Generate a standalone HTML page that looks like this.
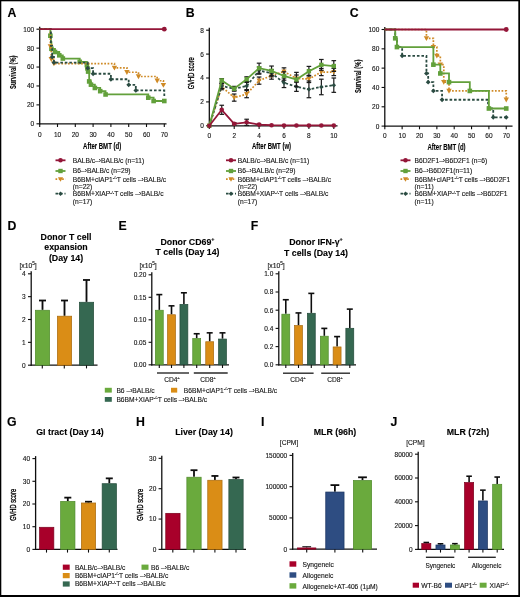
<!DOCTYPE html>
<html><head><meta charset="utf-8"><style>
html,body{margin:0;padding:0;background:#fff;width:520px;height:597px;overflow:hidden}
svg{display:block}
text{font-family:"Liberation Sans", sans-serif;stroke:currentColor;stroke-width:0.12px}
</style></head><body>
<svg width="520" height="597" viewBox="0 0 520 597">
<defs><filter id="bl" x="0" y="0" width="520" height="597" filterUnits="userSpaceOnUse"><feGaussianBlur stdDeviation="0.4"/></filter></defs>
<rect x="0.00" y="0.00" width="520.00" height="597.00" fill="#000" />
<rect x="1.30" y="1.30" width="517.00" height="593.70" fill="#fff" />
<g filter="url(#bl)">
<text x="7.60" y="17.20" font-size="12.3" font-weight="bold" text-anchor="start" fill="#000" >A</text>
<line x1="39.70" y1="26.70" x2="39.70" y2="124.40" stroke="#111" stroke-width="1.3" />
<line x1="36.50" y1="123.80" x2="39.70" y2="123.80" stroke="#111" stroke-width="1.1" />
<text x="34.20" y="126.20" font-size="6.5" font-weight="normal" text-anchor="end" fill="#222" >0</text>
<line x1="36.50" y1="104.88" x2="39.70" y2="104.88" stroke="#111" stroke-width="1.1" />
<text x="34.20" y="107.28" font-size="6.5" font-weight="normal" text-anchor="end" fill="#222" >20</text>
<line x1="36.50" y1="85.96" x2="39.70" y2="85.96" stroke="#111" stroke-width="1.1" />
<text x="34.20" y="88.36" font-size="6.5" font-weight="normal" text-anchor="end" fill="#222" >40</text>
<line x1="36.50" y1="67.04" x2="39.70" y2="67.04" stroke="#111" stroke-width="1.1" />
<text x="34.20" y="69.44" font-size="6.5" font-weight="normal" text-anchor="end" fill="#222" >60</text>
<line x1="36.50" y1="48.12" x2="39.70" y2="48.12" stroke="#111" stroke-width="1.1" />
<text x="34.20" y="50.52" font-size="6.5" font-weight="normal" text-anchor="end" fill="#222" >80</text>
<line x1="36.50" y1="29.20" x2="39.70" y2="29.20" stroke="#111" stroke-width="1.1" />
<text x="34.20" y="31.60" font-size="6.5" font-weight="normal" text-anchor="end" fill="#222" >100</text>
<line x1="39.10" y1="123.80" x2="166.50" y2="123.80" stroke="#111" stroke-width="1.3" />
<line x1="39.70" y1="123.80" x2="39.70" y2="127.00" stroke="#111" stroke-width="1.1" />
<text x="39.70" y="136.60" font-size="6.5" font-weight="normal" text-anchor="middle" fill="#222" >0</text>
<line x1="57.50" y1="123.80" x2="57.50" y2="127.00" stroke="#111" stroke-width="1.1" />
<text x="57.50" y="136.60" font-size="6.5" font-weight="normal" text-anchor="middle" fill="#222" >10</text>
<line x1="75.30" y1="123.80" x2="75.30" y2="127.00" stroke="#111" stroke-width="1.1" />
<text x="75.30" y="136.60" font-size="6.5" font-weight="normal" text-anchor="middle" fill="#222" >20</text>
<line x1="93.10" y1="123.80" x2="93.10" y2="127.00" stroke="#111" stroke-width="1.1" />
<text x="93.10" y="136.60" font-size="6.5" font-weight="normal" text-anchor="middle" fill="#222" >30</text>
<line x1="110.90" y1="123.80" x2="110.90" y2="127.00" stroke="#111" stroke-width="1.1" />
<text x="110.90" y="136.60" font-size="6.5" font-weight="normal" text-anchor="middle" fill="#222" >40</text>
<line x1="128.70" y1="123.80" x2="128.70" y2="127.00" stroke="#111" stroke-width="1.1" />
<text x="128.70" y="136.60" font-size="6.5" font-weight="normal" text-anchor="middle" fill="#222" >50</text>
<line x1="146.50" y1="123.80" x2="146.50" y2="127.00" stroke="#111" stroke-width="1.1" />
<text x="146.50" y="136.60" font-size="6.5" font-weight="normal" text-anchor="middle" fill="#222" >60</text>
<line x1="164.30" y1="123.80" x2="164.30" y2="127.00" stroke="#111" stroke-width="1.1" />
<text x="164.30" y="136.60" font-size="6.5" font-weight="normal" text-anchor="middle" fill="#222" >70</text>
<text transform="translate(15.80,72.20) rotate(-90) scale(0.68,1)" font-size="8.6" font-weight="bold" text-anchor="middle" fill="#000">Survival (%)</text>
<text transform="translate(102.10,148.80) scale(0.67,1)" font-size="9.0" font-weight="bold" text-anchor="middle" fill="#000">After BMT (d)</text>
<path d="M39.70,29.20 L50.38,29.20 L50.38,35.73 L50.91,35.73 L50.91,42.25 L51.45,42.25 L51.45,48.78 L55.01,48.78 L55.01,52.00 L59.28,52.00 L59.28,55.31 L62.84,55.31 L62.84,58.53 L79.75,58.53 L79.75,61.84 L86.87,61.84 L86.87,65.05 L87.40,65.05 L87.40,68.36 L88.12,68.36 L88.12,71.58 L89.18,71.58 L89.18,81.42 L90.96,81.42 L90.96,84.64 L94.88,84.64 L94.88,87.95 L100.22,87.95 L100.22,91.16 L105.56,91.16 L105.56,94.47 L148.28,94.47 L148.28,97.69 L153.62,97.69 L153.62,101.00 L164.30,101.00" fill="none" stroke="#62a03a" stroke-width="1.8" />
<rect x="48.08" y="33.43" width="4.60" height="4.60" fill="#62a03a" />
<rect x="49.15" y="46.48" width="4.60" height="4.60" fill="#62a03a" />
<rect x="52.71" y="49.70" width="4.60" height="4.60" fill="#62a03a" />
<rect x="56.98" y="53.01" width="4.60" height="4.60" fill="#62a03a" />
<rect x="60.54" y="56.23" width="4.60" height="4.60" fill="#62a03a" />
<rect x="77.45" y="59.54" width="4.60" height="4.60" fill="#62a03a" />
<rect x="84.57" y="62.75" width="4.60" height="4.60" fill="#62a03a" />
<rect x="85.10" y="66.06" width="4.60" height="4.60" fill="#62a03a" />
<rect x="85.82" y="69.28" width="4.60" height="4.60" fill="#62a03a" />
<rect x="86.88" y="79.12" width="4.60" height="4.60" fill="#62a03a" />
<rect x="88.66" y="82.34" width="4.60" height="4.60" fill="#62a03a" />
<rect x="92.58" y="85.65" width="4.60" height="4.60" fill="#62a03a" />
<rect x="97.92" y="88.86" width="4.60" height="4.60" fill="#62a03a" />
<rect x="103.26" y="92.17" width="4.60" height="4.60" fill="#62a03a" />
<rect x="145.98" y="95.39" width="4.60" height="4.60" fill="#62a03a" />
<rect x="151.32" y="98.70" width="4.60" height="4.60" fill="#62a03a" />
<rect x="162.00" y="98.70" width="4.60" height="4.60" fill="#62a03a" />
<path d="M39.70,29.20 L50.38,29.20 L50.38,46.42 L51.27,46.42 L51.27,59.28 L53.94,59.28 L53.94,63.63 L114.46,63.63 L114.46,67.89 L126.92,67.89 L126.92,72.24 L138.49,72.24 L138.49,76.50 L157.18,76.50 L157.18,80.76 L163.41,80.76 L163.41,85.11 L164.30,85.11" fill="none" stroke="#cf8a26" stroke-width="1.7" stroke-dasharray="1.7 1.6"/>
<path d="M47.68,44.26 L53.08,44.26 L50.38,49.12 Z" fill="#cf8a26"/>
<path d="M48.57,57.12 L53.97,57.12 L51.27,61.98 Z" fill="#cf8a26"/>
<path d="M51.24,61.47 L56.64,61.47 L53.94,66.33 Z" fill="#cf8a26"/>
<path d="M111.76,65.73 L117.16,65.73 L114.46,70.59 Z" fill="#cf8a26"/>
<path d="M124.22,70.08 L129.62,70.08 L126.92,74.94 Z" fill="#cf8a26"/>
<path d="M135.79,74.34 L141.19,74.34 L138.49,79.20 Z" fill="#cf8a26"/>
<path d="M154.48,78.60 L159.88,78.60 L157.18,83.46 Z" fill="#cf8a26"/>
<path d="M160.71,82.95 L166.11,82.95 L163.41,87.81 Z" fill="#cf8a26"/>
<path d="M39.70,29.20 L50.91,29.20 L50.91,45.85 L52.16,45.85 L52.16,57.01 L53.94,57.01 L53.94,62.59 L87.76,62.59 L87.76,68.18 L93.10,68.18 L93.10,73.76 L110.90,73.76 L110.90,79.24 L128.70,79.24 L128.70,84.82 L135.82,84.82 L135.82,90.41 L164.30,90.41 L164.30,95.99 L164.30,95.99" fill="none" stroke="#2b4c42" stroke-width="1.8" stroke-dasharray="2.6 1.9"/>
<path d="M52.16,54.61 L54.56,57.01 L52.16,59.41 L49.76,57.01 Z" fill="#2b4c42"/>
<path d="M53.94,60.19 L56.34,62.59 L53.94,64.99 L51.54,62.59 Z" fill="#2b4c42"/>
<path d="M87.76,65.78 L90.16,68.18 L87.76,70.58 L85.36,68.18 Z" fill="#2b4c42"/>
<path d="M93.10,71.36 L95.50,73.76 L93.10,76.16 L90.70,73.76 Z" fill="#2b4c42"/>
<path d="M110.90,76.84 L113.30,79.24 L110.90,81.64 L108.50,79.24 Z" fill="#2b4c42"/>
<path d="M128.70,82.42 L131.10,84.82 L128.70,87.22 L126.30,84.82 Z" fill="#2b4c42"/>
<path d="M135.82,88.01 L138.22,90.41 L135.82,92.81 L133.42,90.41 Z" fill="#2b4c42"/>
<path d="M39.70,29.20 L164.30,29.20" fill="none" stroke="#931437" stroke-width="1.8" />
<circle cx="164.30" cy="29.20" r="2.40" fill="#931437"/>
<text x="185.80" y="17.20" font-size="12.3" font-weight="bold" text-anchor="start" fill="#000" >B</text>
<line x1="209.30" y1="27.70" x2="209.30" y2="126.40" stroke="#111" stroke-width="1.3" />
<line x1="206.10" y1="125.80" x2="209.30" y2="125.80" stroke="#111" stroke-width="1.1" />
<text x="203.80" y="128.20" font-size="6.5" font-weight="normal" text-anchor="end" fill="#222" >0</text>
<line x1="206.10" y1="101.90" x2="209.30" y2="101.90" stroke="#111" stroke-width="1.1" />
<text x="203.80" y="104.30" font-size="6.5" font-weight="normal" text-anchor="end" fill="#222" >2</text>
<line x1="206.10" y1="78.00" x2="209.30" y2="78.00" stroke="#111" stroke-width="1.1" />
<text x="203.80" y="80.40" font-size="6.5" font-weight="normal" text-anchor="end" fill="#222" >4</text>
<line x1="206.10" y1="54.10" x2="209.30" y2="54.10" stroke="#111" stroke-width="1.1" />
<text x="203.80" y="56.50" font-size="6.5" font-weight="normal" text-anchor="end" fill="#222" >6</text>
<line x1="206.10" y1="30.20" x2="209.30" y2="30.20" stroke="#111" stroke-width="1.1" />
<text x="203.80" y="32.60" font-size="6.5" font-weight="normal" text-anchor="end" fill="#222" >8</text>
<line x1="208.70" y1="125.80" x2="337.50" y2="125.80" stroke="#111" stroke-width="1.3" />
<line x1="209.30" y1="125.80" x2="209.30" y2="129.00" stroke="#111" stroke-width="1.1" />
<text x="209.30" y="137.60" font-size="6.5" font-weight="normal" text-anchor="middle" fill="#222" >0</text>
<line x1="234.20" y1="125.80" x2="234.20" y2="129.00" stroke="#111" stroke-width="1.1" />
<text x="234.20" y="137.60" font-size="6.5" font-weight="normal" text-anchor="middle" fill="#222" >2</text>
<line x1="259.10" y1="125.80" x2="259.10" y2="129.00" stroke="#111" stroke-width="1.1" />
<text x="259.10" y="137.60" font-size="6.5" font-weight="normal" text-anchor="middle" fill="#222" >4</text>
<line x1="284.00" y1="125.80" x2="284.00" y2="129.00" stroke="#111" stroke-width="1.1" />
<text x="284.00" y="137.60" font-size="6.5" font-weight="normal" text-anchor="middle" fill="#222" >6</text>
<line x1="308.90" y1="125.80" x2="308.90" y2="129.00" stroke="#111" stroke-width="1.1" />
<text x="308.90" y="137.60" font-size="6.5" font-weight="normal" text-anchor="middle" fill="#222" >8</text>
<line x1="333.80" y1="125.80" x2="333.80" y2="129.00" stroke="#111" stroke-width="1.1" />
<text x="333.80" y="137.60" font-size="6.5" font-weight="normal" text-anchor="middle" fill="#222" >10</text>
<text transform="translate(193.80,73.20) rotate(-90) scale(0.64,1)" font-size="8.9" font-weight="normal" text-anchor="middle" fill="#111" style="stroke-width:0.35px">GVHD score</text>
<text transform="translate(271.50,148.80) scale(0.67,1)" font-size="9.0" font-weight="bold" text-anchor="middle" fill="#000">After BMT (w)</text>
<line x1="221.75" y1="83.74" x2="221.75" y2="89.71" stroke="#1a1a1a" stroke-width="1.2" />
<line x1="219.45" y1="83.74" x2="224.05" y2="83.74" stroke="#1a1a1a" stroke-width="1.2" />
<line x1="219.45" y1="89.71" x2="224.05" y2="89.71" stroke="#1a1a1a" stroke-width="1.2" />
<line x1="234.20" y1="94.01" x2="234.20" y2="101.18" stroke="#1a1a1a" stroke-width="1.2" />
<line x1="231.90" y1="94.01" x2="236.50" y2="94.01" stroke="#1a1a1a" stroke-width="1.2" />
<line x1="231.90" y1="101.18" x2="236.50" y2="101.18" stroke="#1a1a1a" stroke-width="1.2" />
<line x1="246.65" y1="90.55" x2="246.65" y2="97.72" stroke="#1a1a1a" stroke-width="1.2" />
<line x1="244.35" y1="90.55" x2="248.95" y2="90.55" stroke="#1a1a1a" stroke-width="1.2" />
<line x1="244.35" y1="97.72" x2="248.95" y2="97.72" stroke="#1a1a1a" stroke-width="1.2" />
<line x1="259.10" y1="77.04" x2="259.10" y2="84.21" stroke="#1a1a1a" stroke-width="1.2" />
<line x1="256.80" y1="77.04" x2="261.40" y2="77.04" stroke="#1a1a1a" stroke-width="1.2" />
<line x1="256.80" y1="84.21" x2="261.40" y2="84.21" stroke="#1a1a1a" stroke-width="1.2" />
<line x1="271.55" y1="72.03" x2="271.55" y2="79.19" stroke="#1a1a1a" stroke-width="1.2" />
<line x1="269.25" y1="72.03" x2="273.85" y2="72.03" stroke="#1a1a1a" stroke-width="1.2" />
<line x1="269.25" y1="79.19" x2="273.85" y2="79.19" stroke="#1a1a1a" stroke-width="1.2" />
<line x1="284.00" y1="67.84" x2="284.00" y2="75.01" stroke="#1a1a1a" stroke-width="1.2" />
<line x1="281.70" y1="67.84" x2="286.30" y2="67.84" stroke="#1a1a1a" stroke-width="1.2" />
<line x1="281.70" y1="75.01" x2="286.30" y2="75.01" stroke="#1a1a1a" stroke-width="1.2" />
<line x1="296.45" y1="75.01" x2="296.45" y2="82.18" stroke="#1a1a1a" stroke-width="1.2" />
<line x1="294.15" y1="75.01" x2="298.75" y2="75.01" stroke="#1a1a1a" stroke-width="1.2" />
<line x1="294.15" y1="82.18" x2="298.75" y2="82.18" stroke="#1a1a1a" stroke-width="1.2" />
<line x1="308.90" y1="75.37" x2="308.90" y2="82.54" stroke="#1a1a1a" stroke-width="1.2" />
<line x1="306.60" y1="75.37" x2="311.20" y2="75.37" stroke="#1a1a1a" stroke-width="1.2" />
<line x1="306.60" y1="82.54" x2="311.20" y2="82.54" stroke="#1a1a1a" stroke-width="1.2" />
<line x1="321.35" y1="68.44" x2="321.35" y2="75.61" stroke="#1a1a1a" stroke-width="1.2" />
<line x1="319.05" y1="68.44" x2="323.65" y2="68.44" stroke="#1a1a1a" stroke-width="1.2" />
<line x1="319.05" y1="75.61" x2="323.65" y2="75.61" stroke="#1a1a1a" stroke-width="1.2" />
<line x1="333.80" y1="68.44" x2="333.80" y2="75.61" stroke="#1a1a1a" stroke-width="1.2" />
<line x1="331.50" y1="68.44" x2="336.10" y2="68.44" stroke="#1a1a1a" stroke-width="1.2" />
<line x1="331.50" y1="75.61" x2="336.10" y2="75.61" stroke="#1a1a1a" stroke-width="1.2" />
<path d="M209.30,125.80 L221.75,86.72 L234.20,97.60 L246.65,94.13 L259.10,80.63 L271.55,75.61 L284.00,71.43 L296.45,78.60 L308.90,78.96 L321.35,72.03 L333.80,72.03" fill="none" stroke="#cf8a26" stroke-width="1.7" stroke-dasharray="1.7 1.6"/>
<path d="M206.74,123.75 L211.87,123.75 L209.30,128.37 Z" fill="#cf8a26"/>
<path d="M219.19,84.67 L224.31,84.67 L221.75,89.29 Z" fill="#cf8a26"/>
<path d="M231.64,95.55 L236.77,95.55 L234.20,100.16 Z" fill="#cf8a26"/>
<path d="M244.09,92.08 L249.22,92.08 L246.65,96.70 Z" fill="#cf8a26"/>
<path d="M256.54,78.58 L261.67,78.58 L259.10,83.19 Z" fill="#cf8a26"/>
<path d="M268.99,73.56 L274.12,73.56 L271.55,78.17 Z" fill="#cf8a26"/>
<path d="M281.44,69.38 L286.56,69.38 L284.00,73.99 Z" fill="#cf8a26"/>
<path d="M293.88,76.55 L299.01,76.55 L296.45,81.16 Z" fill="#cf8a26"/>
<path d="M306.33,76.90 L311.46,76.90 L308.90,81.52 Z" fill="#cf8a26"/>
<path d="M318.79,69.97 L323.92,69.97 L321.35,74.59 Z" fill="#cf8a26"/>
<path d="M331.24,69.97 L336.37,69.97 L333.80,74.59 Z" fill="#cf8a26"/>
<line x1="221.75" y1="83.62" x2="221.75" y2="88.40" stroke="#1a1a1a" stroke-width="1.2" />
<line x1="219.45" y1="83.62" x2="224.05" y2="83.62" stroke="#1a1a1a" stroke-width="1.2" />
<line x1="219.45" y1="88.40" x2="224.05" y2="88.40" stroke="#1a1a1a" stroke-width="1.2" />
<line x1="234.20" y1="86.36" x2="234.20" y2="91.15" stroke="#1a1a1a" stroke-width="1.2" />
<line x1="231.90" y1="86.36" x2="236.50" y2="86.36" stroke="#1a1a1a" stroke-width="1.2" />
<line x1="231.90" y1="91.15" x2="236.50" y2="91.15" stroke="#1a1a1a" stroke-width="1.2" />
<line x1="246.65" y1="82.42" x2="246.65" y2="89.59" stroke="#1a1a1a" stroke-width="1.2" />
<line x1="244.35" y1="82.42" x2="248.95" y2="82.42" stroke="#1a1a1a" stroke-width="1.2" />
<line x1="244.35" y1="89.59" x2="248.95" y2="89.59" stroke="#1a1a1a" stroke-width="1.2" />
<line x1="259.10" y1="67.01" x2="259.10" y2="74.18" stroke="#1a1a1a" stroke-width="1.2" />
<line x1="256.80" y1="67.01" x2="261.40" y2="67.01" stroke="#1a1a1a" stroke-width="1.2" />
<line x1="256.80" y1="74.18" x2="261.40" y2="74.18" stroke="#1a1a1a" stroke-width="1.2" />
<line x1="271.55" y1="69.63" x2="271.55" y2="76.80" stroke="#1a1a1a" stroke-width="1.2" />
<line x1="269.25" y1="69.63" x2="273.85" y2="69.63" stroke="#1a1a1a" stroke-width="1.2" />
<line x1="269.25" y1="76.80" x2="273.85" y2="76.80" stroke="#1a1a1a" stroke-width="1.2" />
<line x1="284.00" y1="78.00" x2="284.00" y2="87.56" stroke="#1a1a1a" stroke-width="1.2" />
<line x1="281.70" y1="78.00" x2="286.30" y2="78.00" stroke="#1a1a1a" stroke-width="1.2" />
<line x1="281.70" y1="87.56" x2="286.30" y2="87.56" stroke="#1a1a1a" stroke-width="1.2" />
<line x1="296.45" y1="81.82" x2="296.45" y2="91.38" stroke="#1a1a1a" stroke-width="1.2" />
<line x1="294.15" y1="81.82" x2="298.75" y2="81.82" stroke="#1a1a1a" stroke-width="1.2" />
<line x1="294.15" y1="91.38" x2="298.75" y2="91.38" stroke="#1a1a1a" stroke-width="1.2" />
<line x1="308.90" y1="80.99" x2="308.90" y2="97.72" stroke="#1a1a1a" stroke-width="1.2" />
<line x1="306.60" y1="80.99" x2="311.20" y2="80.99" stroke="#1a1a1a" stroke-width="1.2" />
<line x1="306.60" y1="97.72" x2="311.20" y2="97.72" stroke="#1a1a1a" stroke-width="1.2" />
<line x1="321.35" y1="79.19" x2="321.35" y2="94.73" stroke="#1a1a1a" stroke-width="1.2" />
<line x1="319.05" y1="79.19" x2="323.65" y2="79.19" stroke="#1a1a1a" stroke-width="1.2" />
<line x1="319.05" y1="94.73" x2="323.65" y2="94.73" stroke="#1a1a1a" stroke-width="1.2" />
<line x1="333.80" y1="78.00" x2="333.80" y2="92.34" stroke="#1a1a1a" stroke-width="1.2" />
<line x1="331.50" y1="78.00" x2="336.10" y2="78.00" stroke="#1a1a1a" stroke-width="1.2" />
<line x1="331.50" y1="92.34" x2="336.10" y2="92.34" stroke="#1a1a1a" stroke-width="1.2" />
<path d="M209.30,125.80 L221.75,86.01 L234.20,88.75 L246.65,86.01 L259.10,70.59 L271.55,73.22 L284.00,82.78 L296.45,86.60 L308.90,89.35 L321.35,86.96 L333.80,85.17" fill="none" stroke="#2b4c42" stroke-width="1.8" stroke-dasharray="2.6 1.9"/>
<path d="M209.30,123.52 L211.58,125.80 L209.30,128.08 L207.02,125.80 Z" fill="#2b4c42"/>
<path d="M221.75,83.73 L224.03,86.01 L221.75,88.29 L219.47,86.01 Z" fill="#2b4c42"/>
<path d="M234.20,86.47 L236.48,88.75 L234.20,91.03 L231.92,88.75 Z" fill="#2b4c42"/>
<path d="M246.65,83.73 L248.93,86.01 L246.65,88.29 L244.37,86.01 Z" fill="#2b4c42"/>
<path d="M259.10,68.31 L261.38,70.59 L259.10,72.87 L256.82,70.59 Z" fill="#2b4c42"/>
<path d="M271.55,70.94 L273.83,73.22 L271.55,75.50 L269.27,73.22 Z" fill="#2b4c42"/>
<path d="M284.00,80.50 L286.28,82.78 L284.00,85.06 L281.72,82.78 Z" fill="#2b4c42"/>
<path d="M296.45,84.32 L298.73,86.60 L296.45,88.88 L294.17,86.60 Z" fill="#2b4c42"/>
<path d="M308.90,87.07 L311.18,89.35 L308.90,91.63 L306.62,89.35 Z" fill="#2b4c42"/>
<path d="M321.35,84.68 L323.63,86.96 L321.35,89.24 L319.07,86.96 Z" fill="#2b4c42"/>
<path d="M333.80,82.89 L336.08,85.17 L333.80,87.45 L331.52,85.17 Z" fill="#2b4c42"/>
<line x1="221.75" y1="78.60" x2="221.75" y2="82.18" stroke="#1a1a1a" stroke-width="1.2" />
<line x1="219.45" y1="78.60" x2="224.05" y2="78.60" stroke="#1a1a1a" stroke-width="1.2" />
<line x1="219.45" y1="82.18" x2="224.05" y2="82.18" stroke="#1a1a1a" stroke-width="1.2" />
<line x1="234.20" y1="86.96" x2="234.20" y2="90.55" stroke="#1a1a1a" stroke-width="1.2" />
<line x1="231.90" y1="86.96" x2="236.50" y2="86.96" stroke="#1a1a1a" stroke-width="1.2" />
<line x1="231.90" y1="90.55" x2="236.50" y2="90.55" stroke="#1a1a1a" stroke-width="1.2" />
<line x1="246.65" y1="76.81" x2="246.65" y2="81.59" stroke="#1a1a1a" stroke-width="1.2" />
<line x1="244.35" y1="76.81" x2="248.95" y2="76.81" stroke="#1a1a1a" stroke-width="1.2" />
<line x1="244.35" y1="81.59" x2="248.95" y2="81.59" stroke="#1a1a1a" stroke-width="1.2" />
<line x1="259.10" y1="63.18" x2="259.10" y2="73.22" stroke="#1a1a1a" stroke-width="1.2" />
<line x1="256.80" y1="63.18" x2="261.40" y2="63.18" stroke="#1a1a1a" stroke-width="1.2" />
<line x1="256.80" y1="73.22" x2="261.40" y2="73.22" stroke="#1a1a1a" stroke-width="1.2" />
<line x1="271.55" y1="66.05" x2="271.55" y2="75.61" stroke="#1a1a1a" stroke-width="1.2" />
<line x1="269.25" y1="66.05" x2="273.85" y2="66.05" stroke="#1a1a1a" stroke-width="1.2" />
<line x1="269.25" y1="75.61" x2="273.85" y2="75.61" stroke="#1a1a1a" stroke-width="1.2" />
<line x1="284.00" y1="71.79" x2="284.00" y2="80.15" stroke="#1a1a1a" stroke-width="1.2" />
<line x1="281.70" y1="71.79" x2="286.30" y2="71.79" stroke="#1a1a1a" stroke-width="1.2" />
<line x1="281.70" y1="80.15" x2="286.30" y2="80.15" stroke="#1a1a1a" stroke-width="1.2" />
<line x1="296.45" y1="72.38" x2="296.45" y2="86.72" stroke="#1a1a1a" stroke-width="1.2" />
<line x1="294.15" y1="72.38" x2="298.75" y2="72.38" stroke="#1a1a1a" stroke-width="1.2" />
<line x1="294.15" y1="86.72" x2="298.75" y2="86.72" stroke="#1a1a1a" stroke-width="1.2" />
<line x1="308.90" y1="66.41" x2="308.90" y2="75.97" stroke="#1a1a1a" stroke-width="1.2" />
<line x1="306.60" y1="66.41" x2="311.20" y2="66.41" stroke="#1a1a1a" stroke-width="1.2" />
<line x1="306.60" y1="75.97" x2="311.20" y2="75.97" stroke="#1a1a1a" stroke-width="1.2" />
<line x1="321.35" y1="59.48" x2="321.35" y2="70.23" stroke="#1a1a1a" stroke-width="1.2" />
<line x1="319.05" y1="59.48" x2="323.65" y2="59.48" stroke="#1a1a1a" stroke-width="1.2" />
<line x1="319.05" y1="70.23" x2="323.65" y2="70.23" stroke="#1a1a1a" stroke-width="1.2" />
<line x1="333.80" y1="60.67" x2="333.80" y2="71.43" stroke="#1a1a1a" stroke-width="1.2" />
<line x1="331.50" y1="60.67" x2="336.10" y2="60.67" stroke="#1a1a1a" stroke-width="1.2" />
<line x1="331.50" y1="71.43" x2="336.10" y2="71.43" stroke="#1a1a1a" stroke-width="1.2" />
<path d="M209.30,125.80 L221.75,80.39 L234.20,88.75 L246.65,79.19 L259.10,68.20 L271.55,70.83 L284.00,75.97 L296.45,79.55 L308.90,71.19 L321.35,64.86 L333.80,66.05" fill="none" stroke="#62a03a" stroke-width="1.8" />
<rect x="207.12" y="123.61" width="4.37" height="4.37" fill="#62a03a" />
<rect x="219.56" y="78.20" width="4.37" height="4.37" fill="#62a03a" />
<rect x="232.02" y="86.57" width="4.37" height="4.37" fill="#62a03a" />
<rect x="244.47" y="77.01" width="4.37" height="4.37" fill="#62a03a" />
<rect x="256.92" y="66.02" width="4.37" height="4.37" fill="#62a03a" />
<rect x="269.37" y="68.65" width="4.37" height="4.37" fill="#62a03a" />
<rect x="281.81" y="73.78" width="4.37" height="4.37" fill="#62a03a" />
<rect x="294.26" y="77.37" width="4.37" height="4.37" fill="#62a03a" />
<rect x="306.71" y="69.00" width="4.37" height="4.37" fill="#62a03a" />
<rect x="319.17" y="62.67" width="4.37" height="4.37" fill="#62a03a" />
<rect x="331.62" y="63.86" width="4.37" height="4.37" fill="#62a03a" />
<line x1="221.75" y1="105.25" x2="221.75" y2="114.33" stroke="#1a1a1a" stroke-width="1.2" />
<line x1="219.45" y1="105.25" x2="224.05" y2="105.25" stroke="#1a1a1a" stroke-width="1.2" />
<line x1="219.45" y1="114.33" x2="224.05" y2="114.33" stroke="#1a1a1a" stroke-width="1.2" />
<line x1="234.20" y1="122.57" x2="234.20" y2="124.96" stroke="#1a1a1a" stroke-width="1.2" />
<line x1="231.90" y1="122.57" x2="236.50" y2="122.57" stroke="#1a1a1a" stroke-width="1.2" />
<line x1="231.90" y1="124.96" x2="236.50" y2="124.96" stroke="#1a1a1a" stroke-width="1.2" />
<line x1="246.65" y1="119.23" x2="246.65" y2="125.44" stroke="#1a1a1a" stroke-width="1.2" />
<line x1="244.35" y1="119.23" x2="248.95" y2="119.23" stroke="#1a1a1a" stroke-width="1.2" />
<line x1="244.35" y1="125.44" x2="248.95" y2="125.44" stroke="#1a1a1a" stroke-width="1.2" />
<line x1="259.10" y1="124.01" x2="259.10" y2="125.20" stroke="#1a1a1a" stroke-width="1.2" />
<line x1="256.80" y1="124.01" x2="261.40" y2="124.01" stroke="#1a1a1a" stroke-width="1.2" />
<line x1="256.80" y1="125.20" x2="261.40" y2="125.20" stroke="#1a1a1a" stroke-width="1.2" />
<path d="M209.30,125.80 L221.75,109.79 L234.20,123.77 L246.65,122.33 L259.10,124.61 L271.55,125.20 L284.00,125.44 L296.45,125.44 L308.90,125.44 L321.35,125.44 L333.80,125.44" fill="none" stroke="#931437" stroke-width="1.8" />
<circle cx="209.30" cy="125.80" r="2.28" fill="#931437"/>
<circle cx="221.75" cy="109.79" r="2.28" fill="#931437"/>
<circle cx="234.20" cy="123.77" r="2.28" fill="#931437"/>
<circle cx="246.65" cy="122.33" r="2.28" fill="#931437"/>
<circle cx="259.10" cy="124.61" r="2.28" fill="#931437"/>
<circle cx="271.55" cy="125.20" r="2.28" fill="#931437"/>
<circle cx="284.00" cy="125.44" r="2.28" fill="#931437"/>
<circle cx="296.45" cy="125.44" r="2.28" fill="#931437"/>
<circle cx="308.90" cy="125.44" r="2.28" fill="#931437"/>
<circle cx="321.35" cy="125.44" r="2.28" fill="#931437"/>
<circle cx="333.80" cy="125.44" r="2.28" fill="#931437"/>
<text x="349.80" y="17.20" font-size="12.3" font-weight="bold" text-anchor="start" fill="#000" >C</text>
<line x1="384.80" y1="27.00" x2="384.80" y2="126.70" stroke="#111" stroke-width="1.3" />
<line x1="381.60" y1="126.10" x2="384.80" y2="126.10" stroke="#111" stroke-width="1.1" />
<text x="379.30" y="128.50" font-size="6.5" font-weight="normal" text-anchor="end" fill="#222" >0</text>
<line x1="381.60" y1="106.78" x2="384.80" y2="106.78" stroke="#111" stroke-width="1.1" />
<text x="379.30" y="109.18" font-size="6.5" font-weight="normal" text-anchor="end" fill="#222" >20</text>
<line x1="381.60" y1="87.46" x2="384.80" y2="87.46" stroke="#111" stroke-width="1.1" />
<text x="379.30" y="89.86" font-size="6.5" font-weight="normal" text-anchor="end" fill="#222" >40</text>
<line x1="381.60" y1="68.14" x2="384.80" y2="68.14" stroke="#111" stroke-width="1.1" />
<text x="379.30" y="70.54" font-size="6.5" font-weight="normal" text-anchor="end" fill="#222" >60</text>
<line x1="381.60" y1="48.82" x2="384.80" y2="48.82" stroke="#111" stroke-width="1.1" />
<text x="379.30" y="51.22" font-size="6.5" font-weight="normal" text-anchor="end" fill="#222" >80</text>
<line x1="381.60" y1="29.50" x2="384.80" y2="29.50" stroke="#111" stroke-width="1.1" />
<text x="379.30" y="31.90" font-size="6.5" font-weight="normal" text-anchor="end" fill="#222" >100</text>
<line x1="384.20" y1="126.10" x2="512.50" y2="126.10" stroke="#111" stroke-width="1.3" />
<line x1="384.80" y1="126.10" x2="384.80" y2="129.30" stroke="#111" stroke-width="1.1" />
<text x="384.80" y="138.10" font-size="6.5" font-weight="normal" text-anchor="middle" fill="#222" >0</text>
<line x1="402.15" y1="126.10" x2="402.15" y2="129.30" stroke="#111" stroke-width="1.1" />
<text x="402.15" y="138.10" font-size="6.5" font-weight="normal" text-anchor="middle" fill="#222" >10</text>
<line x1="419.50" y1="126.10" x2="419.50" y2="129.30" stroke="#111" stroke-width="1.1" />
<text x="419.50" y="138.10" font-size="6.5" font-weight="normal" text-anchor="middle" fill="#222" >20</text>
<line x1="436.85" y1="126.10" x2="436.85" y2="129.30" stroke="#111" stroke-width="1.1" />
<text x="436.85" y="138.10" font-size="6.5" font-weight="normal" text-anchor="middle" fill="#222" >30</text>
<line x1="454.20" y1="126.10" x2="454.20" y2="129.30" stroke="#111" stroke-width="1.1" />
<text x="454.20" y="138.10" font-size="6.5" font-weight="normal" text-anchor="middle" fill="#222" >40</text>
<line x1="471.55" y1="126.10" x2="471.55" y2="129.30" stroke="#111" stroke-width="1.1" />
<text x="471.55" y="138.10" font-size="6.5" font-weight="normal" text-anchor="middle" fill="#222" >50</text>
<line x1="488.90" y1="126.10" x2="488.90" y2="129.30" stroke="#111" stroke-width="1.1" />
<text x="488.90" y="138.10" font-size="6.5" font-weight="normal" text-anchor="middle" fill="#222" >60</text>
<line x1="506.25" y1="126.10" x2="506.25" y2="129.30" stroke="#111" stroke-width="1.1" />
<text x="506.25" y="138.10" font-size="6.5" font-weight="normal" text-anchor="middle" fill="#222" >70</text>
<text transform="translate(360.70,76.30) rotate(-90) scale(0.68,1)" font-size="8.6" font-weight="bold" text-anchor="middle" fill="#000">Survival (%)</text>
<text transform="translate(446.50,149.80) scale(0.67,1)" font-size="9.0" font-weight="bold" text-anchor="middle" fill="#000">After BMT (d)</text>
<path d="M384.80,29.50 L395.21,29.50 L395.21,38.29 L396.94,38.29 L396.94,47.08 L402.15,47.08 L402.15,55.87 L426.44,55.87 L426.44,73.45 L428.18,73.45 L428.18,82.15 L433.38,82.15 L433.38,90.94 L442.06,90.94 L442.06,99.73 L488.03,99.73 L488.03,108.52 L493.24,108.52 L493.24,117.31 L506.25,117.31" fill="none" stroke="#2b4c42" stroke-width="1.8" stroke-dasharray="2.6 1.9"/>
<path d="M402.15,53.47 L404.55,55.87 L402.15,58.27 L399.75,55.87 Z" fill="#2b4c42"/>
<path d="M426.44,71.05 L428.84,73.45 L426.44,75.85 L424.04,73.45 Z" fill="#2b4c42"/>
<path d="M428.18,79.75 L430.57,82.15 L428.18,84.55 L425.78,82.15 Z" fill="#2b4c42"/>
<path d="M433.38,88.54 L435.78,90.94 L433.38,93.34 L430.98,90.94 Z" fill="#2b4c42"/>
<path d="M442.06,97.33 L444.45,99.73 L442.06,102.13 L439.66,99.73 Z" fill="#2b4c42"/>
<path d="M493.24,114.91 L495.64,117.31 L493.24,119.71 L490.84,117.31 Z" fill="#2b4c42"/>
<path d="M506.25,114.91 L508.65,117.31 L506.25,119.71 L503.85,117.31 Z" fill="#2b4c42"/>
<path d="M384.80,29.50 L426.44,29.50 L426.44,38.29 L433.38,38.29 L433.38,47.08 L436.85,47.08 L436.85,55.87 L440.32,55.87 L440.32,64.66 L443.79,64.66 L443.79,82.15 L449.00,82.15 L449.00,90.94 L506.25,90.94 L506.25,99.73 L506.25,99.73" fill="none" stroke="#cf8a26" stroke-width="1.7" stroke-dasharray="1.7 1.6"/>
<path d="M423.74,36.13 L429.14,36.13 L426.44,40.99 Z" fill="#cf8a26"/>
<path d="M430.68,44.92 L436.08,44.92 L433.38,49.78 Z" fill="#cf8a26"/>
<path d="M434.15,53.71 L439.55,53.71 L436.85,58.57 Z" fill="#cf8a26"/>
<path d="M437.62,62.50 L443.02,62.50 L440.32,67.36 Z" fill="#cf8a26"/>
<path d="M441.09,79.99 L446.49,79.99 L443.79,84.85 Z" fill="#cf8a26"/>
<path d="M446.30,88.78 L451.69,88.78 L449.00,93.64 Z" fill="#cf8a26"/>
<path d="M503.55,97.57 L508.95,97.57 L506.25,102.43 Z" fill="#cf8a26"/>
<path d="M384.80,29.50 L395.21,29.50 L395.21,38.29 L396.94,38.29 L396.94,47.08 L433.38,47.08 L433.38,64.66 L440.32,64.66 L440.32,73.45 L449.00,73.45 L449.00,82.15 L469.81,82.15 L469.81,90.94 L488.90,90.94 L488.90,108.52 L506.25,108.52" fill="none" stroke="#62a03a" stroke-width="1.8" />
<rect x="392.91" y="35.99" width="4.60" height="4.60" fill="#62a03a" />
<rect x="394.64" y="44.78" width="4.60" height="4.60" fill="#62a03a" />
<rect x="431.08" y="62.36" width="4.60" height="4.60" fill="#62a03a" />
<rect x="438.02" y="71.15" width="4.60" height="4.60" fill="#62a03a" />
<rect x="446.69" y="79.85" width="4.60" height="4.60" fill="#62a03a" />
<rect x="467.51" y="88.64" width="4.60" height="4.60" fill="#62a03a" />
<rect x="486.60" y="106.22" width="4.60" height="4.60" fill="#62a03a" />
<rect x="503.95" y="106.22" width="4.60" height="4.60" fill="#62a03a" />
<path d="M384.80,29.50 L506.25,29.50" fill="none" stroke="#931437" stroke-width="1.8" />
<circle cx="506.25" cy="29.50" r="2.40" fill="#931437"/>
<line x1="55.50" y1="160.30" x2="65.50" y2="160.30" stroke="#931437" stroke-width="1.8" />
<circle cx="60.50" cy="160.30" r="2.28" fill="#931437"/>
<line x1="55.50" y1="171.00" x2="65.50" y2="171.00" stroke="#62a03a" stroke-width="1.8" />
<rect x="58.31" y="168.81" width="4.37" height="4.37" fill="#62a03a" />
<line x1="55.50" y1="179.20" x2="65.50" y2="179.20" stroke="#cf8a26" stroke-width="1.7" stroke-dasharray="1.7 1.6"/>
<path d="M57.94,177.15 L63.06,177.15 L60.50,181.76 Z" fill="#cf8a26"/>
<line x1="55.50" y1="193.70" x2="65.50" y2="193.70" stroke="#2b4c42" stroke-width="1.8" stroke-dasharray="2.6 1.9"/>
<path d="M60.50,191.42 L62.78,193.70 L60.50,195.98 L58.22,193.70 Z" fill="#2b4c42"/>
<text x="72.80" y="162.60" font-size="6.7" fill="#222">BALB/c–›BALB/c (n=11)</text>
<text x="72.80" y="173.40" font-size="6.7" fill="#222">B6–›BALB/c (n=29)</text>
<text x="72.80" y="181.50" font-size="6.7" fill="#222">B6BM+cIAP1<tspan font-size="4.3" dy="-2.8">-/-</tspan><tspan dy="2.8">T cells –›BALB/c</tspan></text>
<text x="72.80" y="189.20" font-size="6.7" fill="#222">(n=22)</text>
<text x="72.80" y="196.40" font-size="6.7" fill="#222">B6BM+XIAP<tspan font-size="4.3" dy="-2.8">-/-</tspan><tspan dy="2.8">T cells –›BALB/c</tspan></text>
<text x="72.80" y="204.20" font-size="6.7" fill="#222">(n=17)</text>
<line x1="226.00" y1="160.30" x2="236.00" y2="160.30" stroke="#931437" stroke-width="1.8" />
<circle cx="231.00" cy="160.30" r="2.28" fill="#931437"/>
<line x1="226.00" y1="171.00" x2="236.00" y2="171.00" stroke="#62a03a" stroke-width="1.8" />
<rect x="228.81" y="168.81" width="4.37" height="4.37" fill="#62a03a" />
<line x1="226.00" y1="179.20" x2="236.00" y2="179.20" stroke="#cf8a26" stroke-width="1.7" stroke-dasharray="1.7 1.6"/>
<path d="M228.44,177.15 L233.56,177.15 L231.00,181.76 Z" fill="#cf8a26"/>
<line x1="226.00" y1="193.70" x2="236.00" y2="193.70" stroke="#2b4c42" stroke-width="1.8" stroke-dasharray="2.6 1.9"/>
<path d="M231.00,191.42 L233.28,193.70 L231.00,195.98 L228.72,193.70 Z" fill="#2b4c42"/>
<text x="237.70" y="162.60" font-size="6.7" fill="#222">BALB/c–›BALB/c (n=11)</text>
<text x="237.70" y="173.40" font-size="6.7" fill="#222">B6–›BALB/c (n=29)</text>
<text x="237.70" y="181.50" font-size="6.7" fill="#222">B6BM+cIAP1<tspan font-size="4.3" dy="-2.8">-/-</tspan><tspan dy="2.8">T cells –›BALB/c</tspan></text>
<text x="237.70" y="189.20" font-size="6.7" fill="#222">(n=22)</text>
<text x="237.70" y="196.40" font-size="6.7" fill="#222">B6BM+XIAP<tspan font-size="4.3" dy="-2.8">-/-</tspan><tspan dy="2.8">T cells –›BALB/c</tspan></text>
<text x="237.70" y="204.20" font-size="6.7" fill="#222">(n=17)</text>
<line x1="400.50" y1="160.30" x2="410.50" y2="160.30" stroke="#931437" stroke-width="1.8" />
<circle cx="405.50" cy="160.30" r="2.28" fill="#931437"/>
<line x1="400.50" y1="171.00" x2="410.50" y2="171.00" stroke="#62a03a" stroke-width="1.8" />
<rect x="403.31" y="168.81" width="4.37" height="4.37" fill="#62a03a" />
<line x1="400.50" y1="179.20" x2="410.50" y2="179.20" stroke="#cf8a26" stroke-width="1.7" stroke-dasharray="1.7 1.6"/>
<path d="M402.94,177.15 L408.06,177.15 L405.50,181.76 Z" fill="#cf8a26"/>
<line x1="400.50" y1="193.70" x2="410.50" y2="193.70" stroke="#2b4c42" stroke-width="1.8" stroke-dasharray="2.6 1.9"/>
<path d="M405.50,191.42 L407.78,193.70 L405.50,195.98 L403.22,193.70 Z" fill="#2b4c42"/>
<text x="414.60" y="162.60" font-size="6.7" fill="#222">B6D2F1–›B6D2F1 (n=6)</text>
<text x="414.60" y="173.40" font-size="6.7" fill="#222">B6–›B6D2F1(n=11)</text>
<text x="414.60" y="181.50" font-size="6.7" fill="#222">B6BM+cIAP1<tspan font-size="4.3" dy="-2.8">-/-</tspan><tspan dy="2.8">T cells –›B6D2F1</tspan></text>
<text x="414.60" y="189.20" font-size="6.7" fill="#222">(n=11)</text>
<text x="414.60" y="196.40" font-size="6.7" fill="#222">B6BM+XIAP<tspan font-size="4.3" dy="-2.8">-/-</tspan><tspan dy="2.8">T cells –›B6D2F1</tspan></text>
<text x="414.60" y="204.20" font-size="6.7" fill="#222">(n=11)</text>
<text x="7.50" y="230.20" font-size="12.3" font-weight="bold" text-anchor="start" fill="#000" >D</text>
<text x="66.00" y="240.20" font-size="8.8" font-weight="bold" text-anchor="middle" fill="#000" >Donor T cell</text>
<text x="66.00" y="250.40" font-size="8.8" font-weight="bold" text-anchor="middle" fill="#000" >expansion</text>
<text x="66.00" y="260.60" font-size="8.8" font-weight="bold" text-anchor="middle" fill="#000" >(Day 14)</text>
<text x="19.40" y="267.60" font-size="6.8" font-weight="normal" text-anchor="start" fill="#222" >[x10<tspan font-size="4.6" dy="-2.9">5</tspan><tspan dy="2.9">]</tspan></text>
<line x1="31.20" y1="271.30" x2="31.20" y2="365.80" stroke="#111" stroke-width="1.3" />
<line x1="28.00" y1="365.20" x2="31.20" y2="365.20" stroke="#111" stroke-width="1.1" />
<text x="25.70" y="367.60" font-size="6.5" font-weight="normal" text-anchor="end" fill="#222" >0</text>
<line x1="28.00" y1="342.35" x2="31.20" y2="342.35" stroke="#111" stroke-width="1.1" />
<text x="25.70" y="344.75" font-size="6.5" font-weight="normal" text-anchor="end" fill="#222" >1</text>
<line x1="28.00" y1="319.50" x2="31.20" y2="319.50" stroke="#111" stroke-width="1.1" />
<text x="25.70" y="321.90" font-size="6.5" font-weight="normal" text-anchor="end" fill="#222" >2</text>
<line x1="28.00" y1="296.65" x2="31.20" y2="296.65" stroke="#111" stroke-width="1.1" />
<text x="25.70" y="299.05" font-size="6.5" font-weight="normal" text-anchor="end" fill="#222" >3</text>
<line x1="28.00" y1="273.80" x2="31.20" y2="273.80" stroke="#111" stroke-width="1.1" />
<text x="25.70" y="276.20" font-size="6.5" font-weight="normal" text-anchor="end" fill="#222" >4</text>
<line x1="30.60" y1="365.20" x2="97.50" y2="365.20" stroke="#111" stroke-width="1.3" />
<line x1="42.50" y1="300.53" x2="42.50" y2="309.90" stroke="#111" stroke-width="1.8" />
<line x1="39.00" y1="300.53" x2="46.00" y2="300.53" stroke="#111" stroke-width="1.8" />
<rect x="35.35" y="310.25" width="14.30" height="54.95" fill="#6aaa3e" stroke="#4f8a2c" stroke-width="0.7"/>
<line x1="64.50" y1="300.53" x2="64.50" y2="315.84" stroke="#111" stroke-width="1.8" />
<line x1="61.00" y1="300.53" x2="68.00" y2="300.53" stroke="#111" stroke-width="1.8" />
<rect x="57.35" y="316.19" width="14.30" height="49.01" fill="#da8d18" stroke="#a86a10" stroke-width="0.7"/>
<line x1="86.50" y1="279.97" x2="86.50" y2="301.91" stroke="#111" stroke-width="1.8" />
<line x1="83.00" y1="279.97" x2="90.00" y2="279.97" stroke="#111" stroke-width="1.8" />
<rect x="79.35" y="302.26" width="14.30" height="62.94" fill="#356851" stroke="#244a3a" stroke-width="0.7"/>
<line x1="42.30" y1="365.20" x2="42.30" y2="368.40" stroke="#111" stroke-width="1.1" />
<line x1="64.30" y1="365.20" x2="64.30" y2="368.40" stroke="#111" stroke-width="1.1" />
<line x1="86.50" y1="365.20" x2="86.50" y2="368.40" stroke="#111" stroke-width="1.1" />
<text x="118.50" y="230.20" font-size="12.3" font-weight="bold" text-anchor="start" fill="#000" >E</text>
<text x="187.5" y="244.5" font-size="8.8" font-weight="bold" text-anchor="middle" fill="#000">Donor CD69<tspan font-size="5.5" dy="-3.5">+</tspan></text>
<text x="187.50" y="255.00" font-size="8.8" font-weight="bold" text-anchor="middle" fill="#000" >T cells (Day 14)</text>
<text x="139.40" y="267.60" font-size="6.8" font-weight="normal" text-anchor="start" fill="#222" >[x10<tspan font-size="4.6" dy="-2.9">5</tspan><tspan dy="2.9">]</tspan></text>
<line x1="151.80" y1="272.30" x2="151.80" y2="365.40" stroke="#111" stroke-width="1.3" />
<line x1="148.60" y1="364.80" x2="151.80" y2="364.80" stroke="#111" stroke-width="1.1" />
<text x="146.30" y="367.20" font-size="6.5" font-weight="normal" text-anchor="end" fill="#222" >0.00</text>
<line x1="148.60" y1="342.30" x2="151.80" y2="342.30" stroke="#111" stroke-width="1.1" />
<text x="146.30" y="344.70" font-size="6.5" font-weight="normal" text-anchor="end" fill="#222" >0.05</text>
<line x1="148.60" y1="319.80" x2="151.80" y2="319.80" stroke="#111" stroke-width="1.1" />
<text x="146.30" y="322.20" font-size="6.5" font-weight="normal" text-anchor="end" fill="#222" >0.10</text>
<line x1="148.60" y1="297.30" x2="151.80" y2="297.30" stroke="#111" stroke-width="1.1" />
<text x="146.30" y="299.70" font-size="6.5" font-weight="normal" text-anchor="end" fill="#222" >0.15</text>
<line x1="148.60" y1="274.80" x2="151.80" y2="274.80" stroke="#111" stroke-width="1.1" />
<text x="146.30" y="277.20" font-size="6.5" font-weight="normal" text-anchor="end" fill="#222" >0.20</text>
<line x1="151.20" y1="364.80" x2="229.00" y2="364.80" stroke="#111" stroke-width="1.3" />
<line x1="159.30" y1="294.60" x2="159.30" y2="309.90" stroke="#111" stroke-width="1.6" />
<line x1="156.30" y1="294.60" x2="162.30" y2="294.60" stroke="#111" stroke-width="1.6" />
<rect x="155.35" y="310.25" width="7.90" height="54.55" fill="#6aaa3e" stroke="#4f8a2c" stroke-width="0.7"/>
<line x1="171.50" y1="305.85" x2="171.50" y2="314.40" stroke="#111" stroke-width="1.6" />
<line x1="168.50" y1="305.85" x2="174.50" y2="305.85" stroke="#111" stroke-width="1.6" />
<rect x="167.55" y="314.75" width="7.90" height="50.05" fill="#da8d18" stroke="#a86a10" stroke-width="0.7"/>
<line x1="183.90" y1="292.80" x2="183.90" y2="304.05" stroke="#111" stroke-width="1.6" />
<line x1="180.90" y1="292.80" x2="186.90" y2="292.80" stroke="#111" stroke-width="1.6" />
<rect x="179.95" y="304.40" width="7.90" height="60.40" fill="#356851" stroke="#244a3a" stroke-width="0.7"/>
<line x1="196.70" y1="333.75" x2="196.70" y2="338.25" stroke="#111" stroke-width="1.6" />
<line x1="193.70" y1="333.75" x2="199.70" y2="333.75" stroke="#111" stroke-width="1.6" />
<rect x="192.75" y="338.60" width="7.90" height="26.20" fill="#6aaa3e" stroke="#4f8a2c" stroke-width="0.7"/>
<line x1="209.70" y1="332.85" x2="209.70" y2="341.40" stroke="#111" stroke-width="1.6" />
<line x1="206.70" y1="332.85" x2="212.70" y2="332.85" stroke="#111" stroke-width="1.6" />
<rect x="205.75" y="341.75" width="7.90" height="23.05" fill="#da8d18" stroke="#a86a10" stroke-width="0.7"/>
<line x1="222.50" y1="332.85" x2="222.50" y2="338.70" stroke="#111" stroke-width="1.6" />
<line x1="219.50" y1="332.85" x2="225.50" y2="332.85" stroke="#111" stroke-width="1.6" />
<rect x="218.55" y="339.05" width="7.90" height="25.75" fill="#356851" stroke="#244a3a" stroke-width="0.7"/>
<line x1="159.30" y1="364.80" x2="159.30" y2="368.00" stroke="#111" stroke-width="1.1" />
<line x1="171.50" y1="364.80" x2="171.50" y2="368.00" stroke="#111" stroke-width="1.1" />
<line x1="183.90" y1="364.80" x2="183.90" y2="368.00" stroke="#111" stroke-width="1.1" />
<line x1="196.70" y1="364.80" x2="196.70" y2="368.00" stroke="#111" stroke-width="1.1" />
<line x1="209.70" y1="364.80" x2="209.70" y2="368.00" stroke="#111" stroke-width="1.1" />
<line x1="222.50" y1="364.80" x2="222.50" y2="368.00" stroke="#111" stroke-width="1.1" />
<line x1="157.00" y1="373.00" x2="189.00" y2="373.00" stroke="#2a2a2a" stroke-width="1.4" />
<line x1="193.80" y1="373.00" x2="227.70" y2="373.00" stroke="#2a2a2a" stroke-width="1.4" />
<text x="172" y="381.5" font-size="6.6" text-anchor="middle" fill="#222">CD4<tspan font-size="4.3" dy="-2.7">+</tspan></text>
<text x="208" y="381.5" font-size="6.6" text-anchor="middle" fill="#222">CD8<tspan font-size="4.3" dy="-2.7">+</tspan></text>
<rect x="104.80" y="387.80" width="7.00" height="4.80" fill="#6aaa3e" />
<text x="116.40" y="392.60" font-size="6.7" font-weight="normal" text-anchor="start" fill="#222" >B6 –›BALB/c</text>
<rect x="171.00" y="387.80" width="6.20" height="4.80" fill="#da8d18" />
<text x="183.8" y="392.6" font-size="6.7" fill="#222">B6BM+cIAP1<tspan font-size="4.3" dy="-2.8">-/-</tspan><tspan dy="2.8">T cells –›BALB/c</tspan></text>
<rect x="104.80" y="397.00" width="7.00" height="4.80" fill="#356851" />
<text x="116.4" y="401.8" font-size="6.7" fill="#222">B6BM+XIAP<tspan font-size="4.3" dy="-2.8">-/-</tspan><tspan dy="2.8">T cells –›BALB/c</tspan></text>
<text x="250.80" y="230.20" font-size="12.3" font-weight="bold" text-anchor="start" fill="#000" >F</text>
<text x="316" y="244.5" font-size="8.8" font-weight="bold" text-anchor="middle" fill="#000">Donor IFN-γ<tspan font-size="5.5" dy="-3.5">+</tspan></text>
<text x="316.00" y="255.50" font-size="8.8" font-weight="bold" text-anchor="middle" fill="#000" >T cells (Day 14)</text>
<text x="267.40" y="267.60" font-size="6.8" font-weight="normal" text-anchor="start" fill="#222" >[x10<tspan font-size="4.6" dy="-2.9">5</tspan><tspan dy="2.9">]</tspan></text>
<line x1="278.80" y1="271.30" x2="278.80" y2="365.40" stroke="#111" stroke-width="1.3" />
<line x1="275.60" y1="364.80" x2="278.80" y2="364.80" stroke="#111" stroke-width="1.1" />
<text x="273.30" y="367.20" font-size="6.5" font-weight="normal" text-anchor="end" fill="#222" >0.0</text>
<line x1="275.60" y1="346.60" x2="278.80" y2="346.60" stroke="#111" stroke-width="1.1" />
<text x="273.30" y="349.00" font-size="6.5" font-weight="normal" text-anchor="end" fill="#222" >0.2</text>
<line x1="275.60" y1="328.40" x2="278.80" y2="328.40" stroke="#111" stroke-width="1.1" />
<text x="273.30" y="330.80" font-size="6.5" font-weight="normal" text-anchor="end" fill="#222" >0.4</text>
<line x1="275.60" y1="310.20" x2="278.80" y2="310.20" stroke="#111" stroke-width="1.1" />
<text x="273.30" y="312.60" font-size="6.5" font-weight="normal" text-anchor="end" fill="#222" >0.6</text>
<line x1="275.60" y1="292.00" x2="278.80" y2="292.00" stroke="#111" stroke-width="1.1" />
<text x="273.30" y="294.40" font-size="6.5" font-weight="normal" text-anchor="end" fill="#222" >0.8</text>
<line x1="275.60" y1="273.80" x2="278.80" y2="273.80" stroke="#111" stroke-width="1.1" />
<text x="273.30" y="276.20" font-size="6.5" font-weight="normal" text-anchor="end" fill="#222" >1.0</text>
<line x1="278.20" y1="364.80" x2="356.00" y2="364.80" stroke="#111" stroke-width="1.3" />
<line x1="285.80" y1="299.74" x2="285.80" y2="313.84" stroke="#111" stroke-width="1.6" />
<line x1="282.80" y1="299.74" x2="288.80" y2="299.74" stroke="#111" stroke-width="1.6" />
<rect x="281.85" y="314.19" width="7.90" height="50.61" fill="#6aaa3e" stroke="#4f8a2c" stroke-width="0.7"/>
<line x1="298.50" y1="312.93" x2="298.50" y2="325.22" stroke="#111" stroke-width="1.6" />
<line x1="295.50" y1="312.93" x2="301.50" y2="312.93" stroke="#111" stroke-width="1.6" />
<rect x="294.55" y="325.57" width="7.90" height="39.23" fill="#da8d18" stroke="#a86a10" stroke-width="0.7"/>
<line x1="311.30" y1="293.37" x2="311.30" y2="312.93" stroke="#111" stroke-width="1.6" />
<line x1="308.30" y1="293.37" x2="314.30" y2="293.37" stroke="#111" stroke-width="1.6" />
<rect x="307.35" y="313.28" width="7.90" height="51.52" fill="#356851" stroke="#244a3a" stroke-width="0.7"/>
<line x1="324.30" y1="328.40" x2="324.30" y2="335.86" stroke="#111" stroke-width="1.6" />
<line x1="321.30" y1="328.40" x2="327.30" y2="328.40" stroke="#111" stroke-width="1.6" />
<rect x="320.35" y="336.21" width="7.90" height="28.59" fill="#6aaa3e" stroke="#4f8a2c" stroke-width="0.7"/>
<line x1="337.10" y1="336.59" x2="337.10" y2="346.60" stroke="#111" stroke-width="1.6" />
<line x1="334.10" y1="336.59" x2="340.10" y2="336.59" stroke="#111" stroke-width="1.6" />
<rect x="333.15" y="346.95" width="7.90" height="17.85" fill="#da8d18" stroke="#a86a10" stroke-width="0.7"/>
<line x1="349.80" y1="309.11" x2="349.80" y2="327.94" stroke="#111" stroke-width="1.6" />
<line x1="346.80" y1="309.11" x2="352.80" y2="309.11" stroke="#111" stroke-width="1.6" />
<rect x="345.85" y="328.30" width="7.90" height="36.51" fill="#356851" stroke="#244a3a" stroke-width="0.7"/>
<line x1="285.80" y1="364.80" x2="285.80" y2="368.00" stroke="#111" stroke-width="1.1" />
<line x1="298.50" y1="364.80" x2="298.50" y2="368.00" stroke="#111" stroke-width="1.1" />
<line x1="311.30" y1="364.80" x2="311.30" y2="368.00" stroke="#111" stroke-width="1.1" />
<line x1="324.30" y1="364.80" x2="324.30" y2="368.00" stroke="#111" stroke-width="1.1" />
<line x1="337.10" y1="364.80" x2="337.10" y2="368.00" stroke="#111" stroke-width="1.1" />
<line x1="349.80" y1="364.80" x2="349.80" y2="368.00" stroke="#111" stroke-width="1.1" />
<line x1="283.00" y1="373.20" x2="313.60" y2="373.20" stroke="#2a2a2a" stroke-width="1.4" />
<line x1="321.20" y1="373.20" x2="350.00" y2="373.20" stroke="#2a2a2a" stroke-width="1.4" />
<text x="298" y="382.0" font-size="6.6" text-anchor="middle" fill="#222">CD4<tspan font-size="4.3" dy="-2.7">+</tspan></text>
<text x="335" y="382.0" font-size="6.6" text-anchor="middle" fill="#222">CD8<tspan font-size="4.3" dy="-2.7">+</tspan></text>
<text x="7.00" y="426.00" font-size="12.3" font-weight="bold" text-anchor="start" fill="#000" >G</text>
<text x="70.00" y="435.20" font-size="8.8" font-weight="bold" text-anchor="middle" fill="#000" >GI tract (Day 14)</text>
<line x1="35.60" y1="456.10" x2="35.60" y2="550.00" stroke="#111" stroke-width="1.3" />
<line x1="32.40" y1="549.40" x2="35.60" y2="549.40" stroke="#111" stroke-width="1.1" />
<text x="30.10" y="551.80" font-size="6.5" font-weight="normal" text-anchor="end" fill="#222" >0</text>
<line x1="32.40" y1="526.70" x2="35.60" y2="526.70" stroke="#111" stroke-width="1.1" />
<text x="30.10" y="529.10" font-size="6.5" font-weight="normal" text-anchor="end" fill="#222" >10</text>
<line x1="32.40" y1="504.00" x2="35.60" y2="504.00" stroke="#111" stroke-width="1.1" />
<text x="30.10" y="506.40" font-size="6.5" font-weight="normal" text-anchor="end" fill="#222" >20</text>
<line x1="32.40" y1="481.30" x2="35.60" y2="481.30" stroke="#111" stroke-width="1.1" />
<text x="30.10" y="483.70" font-size="6.5" font-weight="normal" text-anchor="end" fill="#222" >30</text>
<line x1="32.40" y1="458.60" x2="35.60" y2="458.60" stroke="#111" stroke-width="1.1" />
<text x="30.10" y="461.00" font-size="6.5" font-weight="normal" text-anchor="end" fill="#222" >40</text>
<line x1="35.00" y1="549.40" x2="117.50" y2="549.40" stroke="#111" stroke-width="1.3" />
<rect x="39.55" y="527.28" width="14.30" height="22.12" fill="#a80029" stroke="#7a0020" stroke-width="0.7"/>
<line x1="67.80" y1="497.64" x2="67.80" y2="501.05" stroke="#111" stroke-width="1.8" />
<line x1="64.30" y1="497.64" x2="71.30" y2="497.64" stroke="#111" stroke-width="1.8" />
<rect x="60.65" y="501.40" width="14.30" height="48.00" fill="#6aaa3e" stroke="#4f8a2c" stroke-width="0.7"/>
<line x1="88.50" y1="501.73" x2="88.50" y2="502.64" stroke="#111" stroke-width="1.8" />
<line x1="85.00" y1="501.73" x2="92.00" y2="501.73" stroke="#111" stroke-width="1.8" />
<rect x="81.35" y="502.99" width="14.30" height="46.41" fill="#da8d18" stroke="#a86a10" stroke-width="0.7"/>
<line x1="109.30" y1="478.35" x2="109.30" y2="483.34" stroke="#111" stroke-width="1.8" />
<line x1="105.80" y1="478.35" x2="112.80" y2="478.35" stroke="#111" stroke-width="1.8" />
<rect x="102.15" y="483.69" width="14.30" height="65.71" fill="#356851" stroke="#244a3a" stroke-width="0.7"/>
<line x1="46.50" y1="549.40" x2="46.50" y2="552.60" stroke="#111" stroke-width="1.1" />
<line x1="67.50" y1="549.40" x2="67.50" y2="552.60" stroke="#111" stroke-width="1.1" />
<line x1="88.50" y1="549.40" x2="88.50" y2="552.60" stroke="#111" stroke-width="1.1" />
<line x1="109.30" y1="549.40" x2="109.30" y2="552.60" stroke="#111" stroke-width="1.1" />
<text transform="translate(15.80,504.90) rotate(-90) scale(0.64,1)" font-size="8.9" font-weight="normal" text-anchor="middle" fill="#111" style="stroke-width:0.35px">GVHD score</text>
<text x="136.00" y="426.00" font-size="12.3" font-weight="bold" text-anchor="start" fill="#000" >H</text>
<text x="204.00" y="435.20" font-size="8.8" font-weight="bold" text-anchor="middle" fill="#000" >Liver (Day 14)</text>
<line x1="161.80" y1="455.85" x2="161.80" y2="550.00" stroke="#111" stroke-width="1.3" />
<line x1="158.60" y1="549.40" x2="161.80" y2="549.40" stroke="#111" stroke-width="1.1" />
<text x="156.30" y="551.80" font-size="6.5" font-weight="normal" text-anchor="end" fill="#222" >0</text>
<line x1="158.60" y1="519.05" x2="161.80" y2="519.05" stroke="#111" stroke-width="1.1" />
<text x="156.30" y="521.45" font-size="6.5" font-weight="normal" text-anchor="end" fill="#222" >10</text>
<line x1="158.60" y1="488.70" x2="161.80" y2="488.70" stroke="#111" stroke-width="1.1" />
<text x="156.30" y="491.10" font-size="6.5" font-weight="normal" text-anchor="end" fill="#222" >20</text>
<line x1="158.60" y1="458.35" x2="161.80" y2="458.35" stroke="#111" stroke-width="1.1" />
<text x="156.30" y="460.75" font-size="6.5" font-weight="normal" text-anchor="end" fill="#222" >30</text>
<line x1="161.20" y1="549.40" x2="246.00" y2="549.40" stroke="#111" stroke-width="1.3" />
<rect x="165.75" y="513.33" width="14.30" height="36.07" fill="#a80029" stroke="#7a0020" stroke-width="0.7"/>
<line x1="194.00" y1="470.19" x2="194.00" y2="476.86" stroke="#111" stroke-width="1.8" />
<line x1="190.50" y1="470.19" x2="197.50" y2="470.19" stroke="#111" stroke-width="1.8" />
<rect x="186.85" y="477.21" width="14.30" height="72.19" fill="#6aaa3e" stroke="#4f8a2c" stroke-width="0.7"/>
<line x1="214.90" y1="475.95" x2="214.90" y2="479.90" stroke="#111" stroke-width="1.8" />
<line x1="211.40" y1="475.95" x2="218.40" y2="475.95" stroke="#111" stroke-width="1.8" />
<rect x="207.75" y="480.25" width="14.30" height="69.15" fill="#da8d18" stroke="#a86a10" stroke-width="0.7"/>
<line x1="236.00" y1="477.47" x2="236.00" y2="479.14" stroke="#111" stroke-width="1.8" />
<line x1="232.50" y1="477.47" x2="239.50" y2="477.47" stroke="#111" stroke-width="1.8" />
<rect x="228.85" y="479.49" width="14.30" height="69.91" fill="#356851" stroke="#244a3a" stroke-width="0.7"/>
<line x1="172.80" y1="549.40" x2="172.80" y2="552.60" stroke="#111" stroke-width="1.1" />
<line x1="193.90" y1="549.40" x2="193.90" y2="552.60" stroke="#111" stroke-width="1.1" />
<line x1="214.90" y1="549.40" x2="214.90" y2="552.60" stroke="#111" stroke-width="1.1" />
<line x1="236.00" y1="549.40" x2="236.00" y2="552.60" stroke="#111" stroke-width="1.1" />
<text transform="translate(142.90,504.90) rotate(-90) scale(0.64,1)" font-size="8.9" font-weight="normal" text-anchor="middle" fill="#111" style="stroke-width:0.35px">GVHD score</text>
<rect x="62.80" y="564.60" width="6.90" height="5.20" fill="#a80029" />
<text x="74.90" y="569.50" font-size="6.7" font-weight="normal" text-anchor="start" fill="#222" >BALB/c–›BALB/c</text>
<rect x="141.50" y="564.60" width="7.00" height="5.20" fill="#6aaa3e" />
<text x="151.00" y="569.50" font-size="6.7" font-weight="normal" text-anchor="start" fill="#222" >B6 –›BALB/c</text>
<rect x="62.80" y="573.00" width="6.90" height="5.20" fill="#da8d18" />
<text x="74.9" y="578.0" font-size="6.7" fill="#222">B6BM+cIAP1<tspan font-size="4.3" dy="-2.8">-/-</tspan><tspan dy="2.8">T cells –›BALB/c</tspan></text>
<rect x="62.80" y="581.40" width="6.90" height="5.20" fill="#356851" />
<text x="74.9" y="586.4" font-size="6.7" fill="#222">B6BM+XIAP<tspan font-size="4.3" dy="-2.8">-/-</tspan><tspan dy="2.8">T cells –›BALB/c</tspan></text>
<text x="261.00" y="426.00" font-size="12.3" font-weight="bold" text-anchor="start" fill="#000" >I</text>
<text x="335.00" y="435.20" font-size="8.8" font-weight="bold" text-anchor="middle" fill="#000" >MLR (96h)</text>
<text x="279.80" y="445.40" font-size="6.65" font-weight="normal" text-anchor="start" fill="#222" >[CPM]</text>
<line x1="292.70" y1="452.90" x2="292.70" y2="549.80" stroke="#111" stroke-width="1.3" />
<line x1="289.50" y1="549.20" x2="292.70" y2="549.20" stroke="#111" stroke-width="1.1" />
<text x="287.20" y="551.60" font-size="6.5" font-weight="normal" text-anchor="end" fill="#222" >0</text>
<line x1="289.50" y1="517.93" x2="292.70" y2="517.93" stroke="#111" stroke-width="1.1" />
<text x="287.20" y="520.33" font-size="6.5" font-weight="normal" text-anchor="end" fill="#222" >50000</text>
<line x1="289.50" y1="486.67" x2="292.70" y2="486.67" stroke="#111" stroke-width="1.1" />
<text x="287.20" y="489.07" font-size="6.5" font-weight="normal" text-anchor="end" fill="#222" >100000</text>
<line x1="289.50" y1="455.40" x2="292.70" y2="455.40" stroke="#111" stroke-width="1.1" />
<text x="287.20" y="457.80" font-size="6.5" font-weight="normal" text-anchor="end" fill="#222" >150000</text>
<line x1="292.10" y1="549.20" x2="377.00" y2="549.20" stroke="#111" stroke-width="1.3" />
<line x1="306.70" y1="546.76" x2="306.70" y2="547.57" stroke="#111" stroke-width="1.1" />
<line x1="302.30" y1="546.76" x2="311.10" y2="546.76" stroke="#111" stroke-width="1.1" />
<rect x="297.55" y="547.92" width="18.30" height="1.28" fill="#a80029" stroke="#7a0020" stroke-width="0.7"/>
<line x1="334.90" y1="485.10" x2="334.90" y2="491.67" stroke="#111" stroke-width="1.8" />
<line x1="330.50" y1="485.10" x2="339.30" y2="485.10" stroke="#111" stroke-width="1.8" />
<rect x="325.75" y="492.02" width="18.30" height="57.18" fill="#2d4d82" stroke="#1c3360" stroke-width="0.7"/>
<line x1="362.50" y1="477.29" x2="362.50" y2="480.10" stroke="#111" stroke-width="1.8" />
<line x1="358.10" y1="477.29" x2="366.90" y2="477.29" stroke="#111" stroke-width="1.8" />
<rect x="353.35" y="480.45" width="18.30" height="68.75" fill="#6aaa3e" stroke="#4f8a2c" stroke-width="0.7"/>
<line x1="306.70" y1="549.20" x2="306.70" y2="552.40" stroke="#111" stroke-width="1.1" />
<line x1="334.90" y1="549.20" x2="334.90" y2="552.40" stroke="#111" stroke-width="1.1" />
<line x1="362.70" y1="549.20" x2="362.70" y2="552.40" stroke="#111" stroke-width="1.1" />
<rect x="289.50" y="561.30" width="6.80" height="5.40" fill="#a80029" />
<text x="302.50" y="567.20" font-size="6.7" font-weight="normal" text-anchor="start" fill="#222" >Syngeneic</text>
<rect x="289.50" y="572.30" width="6.80" height="5.40" fill="#2d4d82" />
<text x="302.50" y="578.20" font-size="6.7" font-weight="normal" text-anchor="start" fill="#222" >Allogeneic</text>
<rect x="289.50" y="583.20" width="6.80" height="5.40" fill="#6aaa3e" />
<text x="302.50" y="589.10" font-size="6.7" font-weight="normal" text-anchor="start" fill="#222" >Allogeneic+AT-406 (1μM)</text>
<text x="390.50" y="426.00" font-size="12.3" font-weight="bold" text-anchor="start" fill="#000" >J</text>
<text x="468.00" y="435.20" font-size="8.8" font-weight="bold" text-anchor="middle" fill="#000" >MLR (72h)</text>
<text x="406.20" y="445.40" font-size="6.65" font-weight="normal" text-anchor="start" fill="#222" >[CPM]</text>
<line x1="418.20" y1="451.70" x2="418.20" y2="550.00" stroke="#111" stroke-width="1.3" />
<line x1="415.00" y1="549.40" x2="418.20" y2="549.40" stroke="#111" stroke-width="1.1" />
<text x="412.70" y="551.80" font-size="6.5" font-weight="normal" text-anchor="end" fill="#222" >0</text>
<line x1="415.00" y1="525.60" x2="418.20" y2="525.60" stroke="#111" stroke-width="1.1" />
<text x="412.70" y="528.00" font-size="6.5" font-weight="normal" text-anchor="end" fill="#222" >20000</text>
<line x1="415.00" y1="501.80" x2="418.20" y2="501.80" stroke="#111" stroke-width="1.1" />
<text x="412.70" y="504.20" font-size="6.5" font-weight="normal" text-anchor="end" fill="#222" >40000</text>
<line x1="415.00" y1="478.00" x2="418.20" y2="478.00" stroke="#111" stroke-width="1.1" />
<text x="412.70" y="480.40" font-size="6.5" font-weight="normal" text-anchor="end" fill="#222" >60000</text>
<line x1="415.00" y1="454.20" x2="418.20" y2="454.20" stroke="#111" stroke-width="1.1" />
<text x="412.70" y="456.60" font-size="6.5" font-weight="normal" text-anchor="end" fill="#222" >80000</text>
<line x1="417.60" y1="549.40" x2="504.00" y2="549.40" stroke="#111" stroke-width="1.3" />
<line x1="426.30" y1="542.50" x2="426.30" y2="543.21" stroke="#111" stroke-width="1.6" />
<line x1="423.50" y1="542.50" x2="429.10" y2="542.50" stroke="#111" stroke-width="1.6" />
<rect x="421.75" y="543.56" width="9.10" height="5.84" fill="#a80029" stroke="#7a0020" stroke-width="0.7"/>
<line x1="440.50" y1="543.81" x2="440.50" y2="544.64" stroke="#111" stroke-width="1.6" />
<line x1="437.70" y1="543.81" x2="443.30" y2="543.81" stroke="#111" stroke-width="1.6" />
<rect x="435.95" y="544.99" width="9.10" height="4.41" fill="#2d4d82" stroke="#1c3360" stroke-width="0.7"/>
<line x1="454.90" y1="543.69" x2="454.90" y2="544.64" stroke="#111" stroke-width="1.6" />
<line x1="452.10" y1="543.69" x2="457.70" y2="543.69" stroke="#111" stroke-width="1.6" />
<rect x="450.35" y="544.99" width="9.10" height="4.41" fill="#6aaa3e" stroke="#4f8a2c" stroke-width="0.7"/>
<line x1="469.10" y1="476.21" x2="469.10" y2="482.16" stroke="#111" stroke-width="1.6" />
<line x1="466.30" y1="476.21" x2="471.90" y2="476.21" stroke="#111" stroke-width="1.6" />
<rect x="464.55" y="482.51" width="9.10" height="66.89" fill="#a80029" stroke="#7a0020" stroke-width="0.7"/>
<line x1="482.90" y1="490.14" x2="482.90" y2="500.61" stroke="#111" stroke-width="1.6" />
<line x1="480.10" y1="490.14" x2="485.70" y2="490.14" stroke="#111" stroke-width="1.6" />
<rect x="478.35" y="500.96" width="9.10" height="48.44" fill="#2d4d82" stroke="#1c3360" stroke-width="0.7"/>
<line x1="497.20" y1="477.05" x2="497.20" y2="483.95" stroke="#111" stroke-width="1.6" />
<line x1="494.40" y1="477.05" x2="500.00" y2="477.05" stroke="#111" stroke-width="1.6" />
<rect x="492.65" y="484.30" width="9.10" height="65.10" fill="#6aaa3e" stroke="#4f8a2c" stroke-width="0.7"/>
<line x1="426.30" y1="549.40" x2="426.30" y2="552.60" stroke="#111" stroke-width="1.1" />
<line x1="440.50" y1="549.40" x2="440.50" y2="552.60" stroke="#111" stroke-width="1.1" />
<line x1="454.90" y1="549.40" x2="454.90" y2="552.60" stroke="#111" stroke-width="1.1" />
<line x1="469.10" y1="549.40" x2="469.10" y2="552.60" stroke="#111" stroke-width="1.1" />
<line x1="482.90" y1="549.40" x2="482.90" y2="552.60" stroke="#111" stroke-width="1.1" />
<line x1="497.20" y1="549.40" x2="497.20" y2="552.60" stroke="#111" stroke-width="1.1" />
<line x1="425.90" y1="557.30" x2="454.30" y2="557.30" stroke="#2a2a2a" stroke-width="1.4" />
<line x1="468.10" y1="557.30" x2="495.80" y2="557.30" stroke="#2a2a2a" stroke-width="1.4" />
<text x="440.40" y="567.60" font-size="6.4" font-weight="normal" text-anchor="middle" fill="#222" >Syngeneic</text>
<text x="486.60" y="567.60" font-size="6.4" font-weight="normal" text-anchor="middle" fill="#222" >Allogeneic</text>
<rect x="412.70" y="582.70" width="6.30" height="5.00" fill="#a80029" />
<text x="421.20" y="587.90" font-size="6.7" font-weight="normal" text-anchor="start" fill="#222" >WT-B6</text>
<rect x="445.00" y="582.70" width="7.00" height="5.00" fill="#2d4d82" />
<text x="454.7" y="587.9" font-size="6.7" fill="#222">cIAP1<tspan font-size="4.3" dy="-2.8">-/-</tspan><tspan dy="2.8"></tspan></text>
<rect x="479.70" y="582.70" width="6.90" height="5.00" fill="#6aaa3e" />
<text x="489.6" y="587.9" font-size="6.7" fill="#222">XIAP<tspan font-size="4.3" dy="-2.8">-/-</tspan><tspan dy="2.8"></tspan></text>
</g>
</svg>
</body></html>
